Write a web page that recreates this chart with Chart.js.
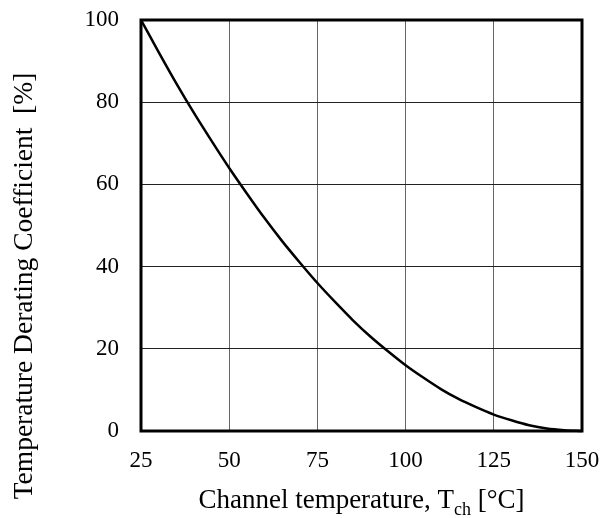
<!DOCTYPE html>
<html>
<head>
<meta charset="utf-8">
<script src="https://cdn.jsdelivr.net/npm/chart.js@4.4.0/dist/chart.umd.min.js"></script>
<style>
html,body{margin:0;padding:0;background:#fff;}
#wrap{width:603px;height:518px;position:relative;}
</style>
</head>
<body>
<div id="wrap"><canvas id="c" width="603" height="518"></canvas></div>
<script>
// Channel temperature (°C)
const temperatures = [25,30,35,40,45,50,55,60,65,70,75,80,85,90,95,100,105,110,115,120,125,130,135,140,145,150];
// Temperature derating coefficient (%)
const derating = [100,92.2,84.6,77.4,70.6,64,57.8,51.8,46.2,41,36,31.4,27,23,19.4,16,13,10.2,7.8,5.8,4,2.6,1.4,0.6,0.2,0];
const xTicks = [25,50,75,100,125,150];
const yTicks = [0,20,40,60,80,100];
const xTitleMain = 'Channel temperature, T';
const xTitleSub = 'ch';
const xTitleEnd = ' [°C]';
const yTitle = 'Temperature Derating Coefficient  [%]';

const FONT = '"Liberation Serif", "Times New Roman", serif';

const points = temperatures.map((t,i)=>({x:t,y:derating[i]}));

const frame = {
  id:'frame',
  afterDatasetsDraw(chart){
    const {ctx, chartArea:a} = chart;
    ctx.save();
    ctx.strokeStyle='#000';
    ctx.lineWidth=3;
    ctx.strokeRect(a.left, a.top, a.right-a.left, a.bottom-a.top);
    ctx.restore();
  },
  afterDraw(chart){
    const {ctx, chartArea:a} = chart;
    ctx.save();
    ctx.fillStyle='#000';
    // x title with subscript
    ctx.font = '27px ' + FONT;
    const w1 = ctx.measureText(xTitleMain).width;
    const w3 = ctx.measureText(xTitleEnd).width;
    ctx.font = '18px ' + FONT;
    const w2 = ctx.measureText(xTitleSub).width;
    const total = w1+w2+w3;
    let x0 = (a.left+a.right)/2 - total/2;
    const yb = 508;
    ctx.textBaseline='alphabetic';
    ctx.textAlign='left';
    ctx.font = '27px ' + FONT;
    ctx.fillText(xTitleMain, x0, yb);
    ctx.font = '18px ' + FONT;
    ctx.fillText(xTitleSub, x0+w1, yb+7);
    ctx.font = '27px ' + FONT;
    ctx.fillText(xTitleEnd, x0+w1+w2, yb);
    // y title rotated
    ctx.translate(32, 286);
    ctx.rotate(-Math.PI/2);
    ctx.textAlign='center';
    ctx.textBaseline='alphabetic';
    ctx.font = '27.5px ' + FONT;
    ctx.fillText(yTitle, 0, 0);
    ctx.restore();
  }
};

new Chart(document.getElementById('c'), {
  type:'scatter',
  data:{datasets:[{
    data:points,
    showLine:true,
    borderColor:'#000',
    backgroundColor:'#000',
    borderWidth:2.5,
    pointRadius:0,
    cubicInterpolationMode:'monotone',
    clip:false
  }]},
  options:{
    responsive:false,
    animation:false,
    devicePixelRatio:1,
    layout:{padding:{top:20,right:21,left:0,bottom:0}},
    plugins:{legend:{display:false},tooltip:{enabled:false}},
    scales:{
      x:{
        type:'linear', min:25, max:150,
        afterBuildTicks(s){ s.ticks = xTicks.map(v=>({value:v})); },
        afterFit(s){ s.height = 87; s.paddingLeft = 0; s.paddingRight = 0; },
        grid:{color:'#666', lineWidth:1, drawTicks:false},
        border:{display:false},
        ticks:{color:'#000', font:{family:FONT,size:23}, padding:16, maxRotation:0}
      },
      y:{
        type:'linear', min:0, max:100,
        afterBuildTicks(s){ s.ticks = yTicks.map(v=>({value:v})); },
        afterFit(s){ s.width = 141; s.paddingTop = 0; s.paddingBottom = 0; },
        grid:{color:'#222', lineWidth:1, drawTicks:false},
        border:{display:false},
        ticks:{color:'#000', font:{family:FONT,size:23}, padding:22}
      }
    }
  },
  plugins:[frame]
});
</script>
</body>
</html>
